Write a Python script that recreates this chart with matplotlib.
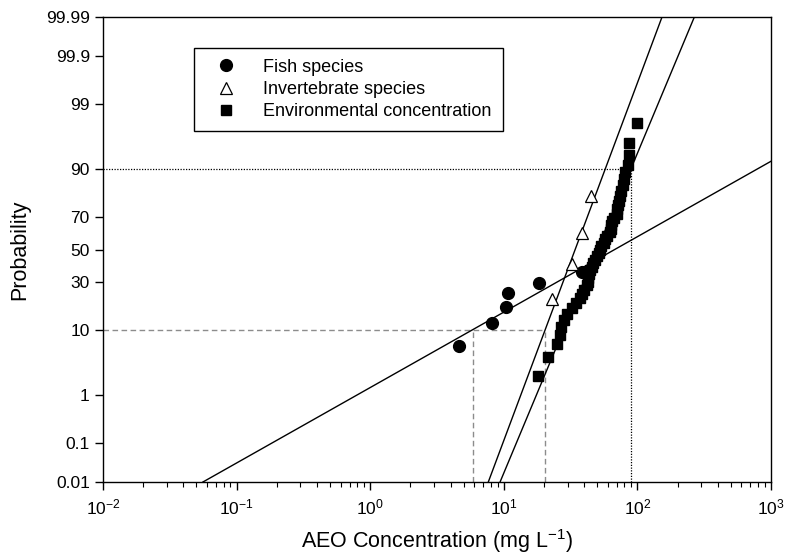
from statistics import NormalDist
import numpy as np
import matplotlib
matplotlib.use("Agg")
import matplotlib.pyplot as plt
from matplotlib.ticker import FixedLocator, LogLocator, NullLocator

plt.rcParams['font.family'] = ['Liberation Sans', 'DejaVu Sans']
plt.rcParams['mathtext.fontset'] = 'custom'
plt.rcParams['mathtext.rm'] = 'Liberation Sans'
plt.rcParams['mathtext.it'] = 'Liberation Sans:italic'

# Species sensitivity data (mg/L) with plotting positions (%)
fish_conc = [4.6, 8.2, 10.4, 10.7, 18.3, 38.3]
fish_prob = [6.1, 12.0, 17.9, 24.1, 29.7, 36.0]

invert_conc = [23.0, 32.4, 38.2, 44.6]
invert_prob = [21.4, 41.1, 60.7, 80.3]

# Environmental concentrations, ranked
env_conc = [18.1, 21.5, 25.0, 26.4, 26.8, 28.2, 29.7, 32.4, 34.7, 37.2,
            38.5, 39.8, 42.0, 42.7, 42.7, 43.4, 44.2, 45.7, 46.5, 48.2,
            49.9, 51.6, 52.5, 53.4, 56.2, 57.2, 59.2, 62.4, 63.4, 63.4,
            64.5, 66.8, 70.4, 70.4, 71.6, 72.9, 74.1, 75.4, 78.0, 79.4,
            80.8, 85.0, 86.5, 86.5, 99.3]
env_prob = [100.0 * (i + 1) / (len(env_conc) + 1) for i in range(len(env_conc))]

# Log-normal fits: mean and sd of log10(concentration)
fish_fit = (1.830, 0.8287)
invert_fit = (1.534, 0.1748)
env_fit = (1.699, 0.1955)

prob_ticks = [0.01, 0.1, 1, 10, 30, 50, 70, 90, 99, 99.9, 99.99]
prob_labels = ['0.01', '0.1', '1', '10', '30', '50', '70', '90', '99', '99.9', '99.99']

nd = NormalDist()
_ppf = np.vectorize(lambda p: nd.inv_cdf(p), otypes=[float])
_cdf = np.vectorize(lambda z: nd.cdf(z), otypes=[float])


def prob_forward(p):
    p = np.clip(np.asarray(p, dtype=float) / 100.0, 1e-12, 1 - 1e-12)
    return _ppf(p)


def prob_inverse(z):
    return 100.0 * _cdf(np.asarray(z, dtype=float))


def fit_line(mu, sigma, xmin=0.01, xmax=1000.0):
    z_lim = nd.inv_cdf(0.9999)
    lo = max(np.log10(xmin), mu - sigma * z_lim)
    hi = min(np.log10(xmax), mu + sigma * z_lim)
    lx = np.linspace(lo, hi, 200)
    return 10 ** lx, prob_inverse((lx - mu) / sigma)


fig = plt.figure(figsize=(7.85, 5.56), dpi=100)
ax = fig.add_axes([0.1312, 0.1331, 0.8510, 0.8363])
ax.set_xscale('log')
ax.set_yscale('function', functions=(prob_forward, prob_inverse))
ax.set_xlim(0.01, 1000)
ax.set_ylim(0.01, 99.99)

# fitted distributions
for mu, sigma in (fish_fit, invert_fit, env_fit):
    lx, ly = fit_line(mu, sigma)
    ax.plot(lx, ly, color='black', lw=1.0, zorder=2)

# HC10 of fish and invertebrates, 90th percentile of exposure
z10 = nd.inv_cdf(0.10)
fish_hc10 = 10 ** (fish_fit[0] + z10 * fish_fit[1])
invert_hc10 = 10 ** (invert_fit[0] + z10 * invert_fit[1])
env_p90 = 10 ** (env_fit[0] - z10 * env_fit[1])

gray = '#8c8c8c'
dash = (0, (4, 2.5))
ax.plot([0.01, invert_hc10], [10, 10], color=gray, lw=1.0, ls=dash, zorder=1)
ax.plot([fish_hc10, fish_hc10], [0.01, 10], color=gray, lw=1.0, ls=dash, zorder=1)
ax.plot([invert_hc10, invert_hc10], [0.01, 10], color=gray, lw=1.0, ls=dash, zorder=1)
ax.plot([0.01, env_p90], [90, 90], color='black', lw=0.9, ls=(0, (1, 1.2)), zorder=1)
ax.plot([env_p90, env_p90], [0.01, 90], color='black', lw=0.9, ls=(0, (1, 1.2)), zorder=1)

ax.plot(fish_conc, fish_prob, 'o', color='black', ms=8.5, ls='none',
        label='Fish species', zorder=3)
ax.plot(invert_conc, invert_prob, '^', mfc='white', mec='black', mew=0.9, ms=8,
        ls='none', label='Invertebrate species', zorder=4)
ax.plot(env_conc, env_prob, 's', color='black', ms=7.7, ls='none',
        label='Environmental concentration', zorder=3)

ax.yaxis.set_major_locator(FixedLocator(prob_ticks))
ax.yaxis.set_minor_locator(NullLocator())
ax.set_yticklabels(prob_labels)
ax.xaxis.set_major_locator(LogLocator(base=10, numticks=10))
ax.xaxis.set_minor_locator(LogLocator(base=10, subs=np.arange(2, 10), numticks=10))

ax.tick_params(axis='both', which='major', direction='out', length=6, width=1,
               labelsize=12.5, top=False, right=False)
ax.tick_params(axis='x', which='minor', direction='out', length=3.5, width=0.8,
               top=False)
ax.tick_params(axis='x', pad=5)
for s in ax.spines.values():
    s.set_linewidth(1.0)

ax.set_xlabel('AEO Concentration (mg L$^{-1}$)', fontsize=15.5, labelpad=7)
ax.set_ylabel('Probability', fontsize=15.5, labelpad=11)

leg = ax.legend(loc='upper left', bbox_to_anchor=(0.136, 0.934), borderaxespad=0,
                fontsize=13, fancybox=False, edgecolor='black', framealpha=1,
                handletextpad=0.85, borderpad=0.6, labelspacing=0.3,
                handlelength=2.4)
leg.get_frame().set_linewidth(1.0)

fig.savefig('out.png', dpi=100)
